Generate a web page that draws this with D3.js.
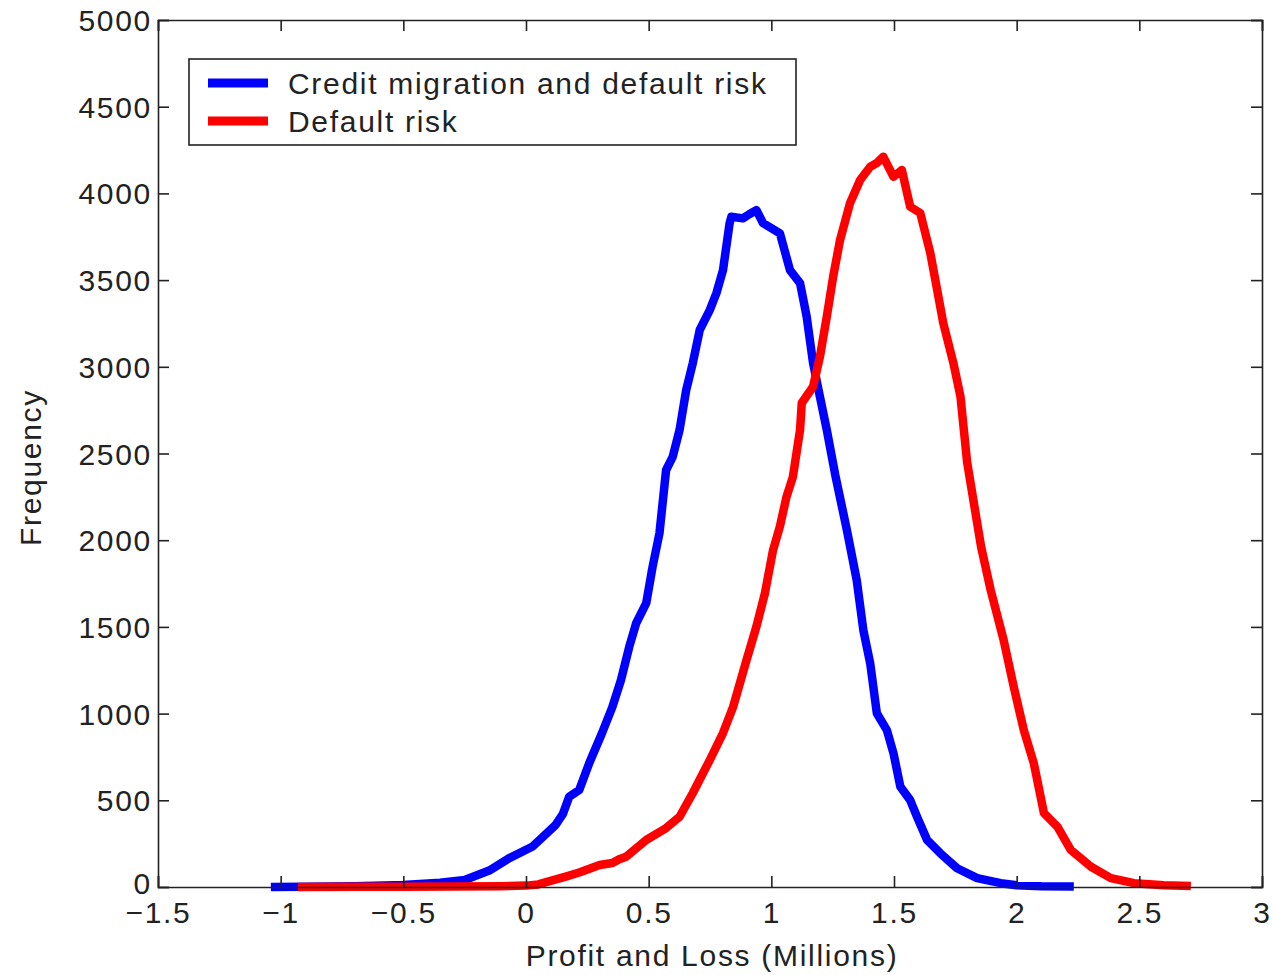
<!DOCTYPE html>
<html><head><meta charset="utf-8">
<script src="https://cdn.jsdelivr.net/npm/d3@7"></script>
<style>
html,body{margin:0;padding:0;background:#fff;}
svg{display:block;font-family:"Liberation Sans",Arial,sans-serif;}
svg text{letter-spacing:1.7px;}
</style></head>
<body>
<svg id="c" width="1273" height="975"></svg>
<script>
// Series: Credit migration and default risk (blue)
const blueX = [-1.04,-0.9,-0.7,-0.5,-0.35,-0.25,-0.15,-0.07,0.025,0.07,0.12,0.15,0.176,0.217,0.258,0.31,0.352,0.387,0.421,0.449,0.49,0.516,0.544,0.571,0.598,0.626,0.653,0.68,0.708,0.749,0.776,0.803,0.83,0.837,0.884,0.91,0.939,0.966,1.0,1.035,1.076,1.117,1.144,1.17,1.198,1.226,1.26,1.308,1.348,1.375,1.403,1.43,1.471,1.498,1.526,1.566,1.594,1.635,1.689,1.757,1.839,1.935,2.0,2.1,2.233];
const blueY = [0,2,5,12,25,40,95,165,232,290,357,420,520,560,715,888,1038,1193,1386,1521,1637,1847,2040,2405,2481,2636,2866,3022,3212,3327,3424,3558,3829,3865,3856,3880,3904,3829,3800,3770,3558,3483,3289,3022,2828,2636,2380,2058,1770,1482,1290,1002,905,771,578,501,405,271,194,108,51,22,10,5,3];
// Series: Default risk (red)
const redX = [-0.93,-0.7,-0.5,-0.3,-0.1,0.0,0.05,0.1,0.162,0.22,0.3,0.352,0.38,0.408,0.49,0.571,0.626,0.68,0.749,0.803,0.844,0.899,0.939,0.974,1.007,1.035,1.062,1.088,1.117,1.124,1.17,1.198,1.226,1.252,1.28,1.321,1.362,1.403,1.43,1.456,1.498,1.532,1.566,1.607,1.648,1.676,1.701,1.742,1.771,1.798,1.855,1.894,1.947,1.988,2.029,2.07,2.111,2.166,2.221,2.303,2.384,2.479,2.6,2.71];
const redY = [0,1,2,3,5,8,15,35,60,85,127,138,160,175,271,340,405,542,732,888,1038,1309,1501,1695,1943,2080,2251,2366,2636,2791,2885,3058,3289,3520,3731,3945,4077,4154,4175,4212,4096,4135,3923,3887,3656,3443,3251,3022,2828,2450,1962,1713,1424,1155,905,713,427,348,213,117,51,22,10,6];
const xTicks = [-1.5,-1,-0.5,0,0.5,1,1.5,2,2.5,3];
const yTicks = [0,500,1000,1500,2000,2500,3000,3500,4000,4500,5000];
const seriesNames = ["Credit migration and default risk","Default risk"];
const seriesColors = ["#0000ff","#ff0000"];

const svg = d3.select("#c");
const L = 158, R = 1262, T = 20, B = 887;
const x = d3.scaleLinear().domain([-1.5,3]).range([L,R]);
const y = d3.scaleLinear().domain([0,5000]).range([B,T]);
const fmt = v => (v<0 ? "\u2212" + String(Math.abs(v)) : String(v));
const tickLen = 11;
const FS = 30;

// series lines
const line = d3.line().x(d=>x(d[0])).y(d=>y(d[1]));
const series = [d3.zip(blueX,blueY), d3.zip(redX,redY)];
series.forEach((s,i)=>{
  svg.append("path").datum(s).attr("d",line)
    .attr("fill","none").attr("stroke",seriesColors[i])
    .attr("stroke-width",8.5).attr("stroke-linejoin","round").attr("stroke-linecap","butt");
});

// axes
const axB = svg.append("g").attr("transform",`translate(0,${B})`)
  .call(d3.axisBottom(x).tickValues(xTicks).tickSize(-tickLen).tickPadding(15).tickFormat(fmt));
const axT = svg.append("g").attr("transform",`translate(0,${T})`)
  .call(d3.axisTop(x).tickValues(xTicks).tickSize(-tickLen).tickFormat(""));
const axL = svg.append("g").attr("transform",`translate(${L},0)`)
  .call(d3.axisLeft(y).tickValues(yTicks).tickSize(-tickLen).tickPadding(6).tickFormat(d3.format("d")));
const axR = svg.append("g").attr("transform",`translate(${R},0)`)
  .call(d3.axisRight(y).tickValues(yTicks).tickSize(-tickLen).tickFormat(""));
[axB,axT,axL,axR].forEach(g=>{
  g.select(".domain").attr("stroke","#222").attr("stroke-width",1.6);
  g.selectAll(".tick line").attr("stroke","#222").attr("stroke-width",1.6);
  g.selectAll("text").attr("font-size",FS).attr("fill","#222")
    .attr("font-family","'Liberation Sans',Arial,sans-serif");
});
axB.selectAll("text").attr("dy","0.71em");
axL.selectAll("text").attr("dy", d => d===0 ? "0.2em" : "0.35em");

// axis titles
svg.append("text").attr("x",(L+R)/2+2).attr("y",966).attr("text-anchor","middle")
  .attr("font-size",FS).attr("fill","#222").text("Profit and Loss (Millions)");
svg.append("text").attr("transform",`translate(41,${(T+B)/2+14}) rotate(-90)`)
  .attr("text-anchor","middle").attr("font-size",FS).attr("fill","#222").text("Frequency");

// legend
const lg = svg.append("g");
lg.append("rect").attr("x",189).attr("y",59).attr("width",607).attr("height",86)
  .attr("fill","#fff").attr("stroke","#222").attr("stroke-width",1.6);
seriesNames.forEach((n,i)=>{
  const yy = 83 + i*38;
  lg.append("line").attr("x1",208).attr("x2",268).attr("y1",yy).attr("y2",yy)
    .attr("stroke",seriesColors[i]).attr("stroke-width",9);
  lg.append("text").attr("x",288).attr("y",yy).attr("dy","0.35em")
    .attr("font-size",FS).attr("fill","#222").text(n);
});
</script>
</body></html>
